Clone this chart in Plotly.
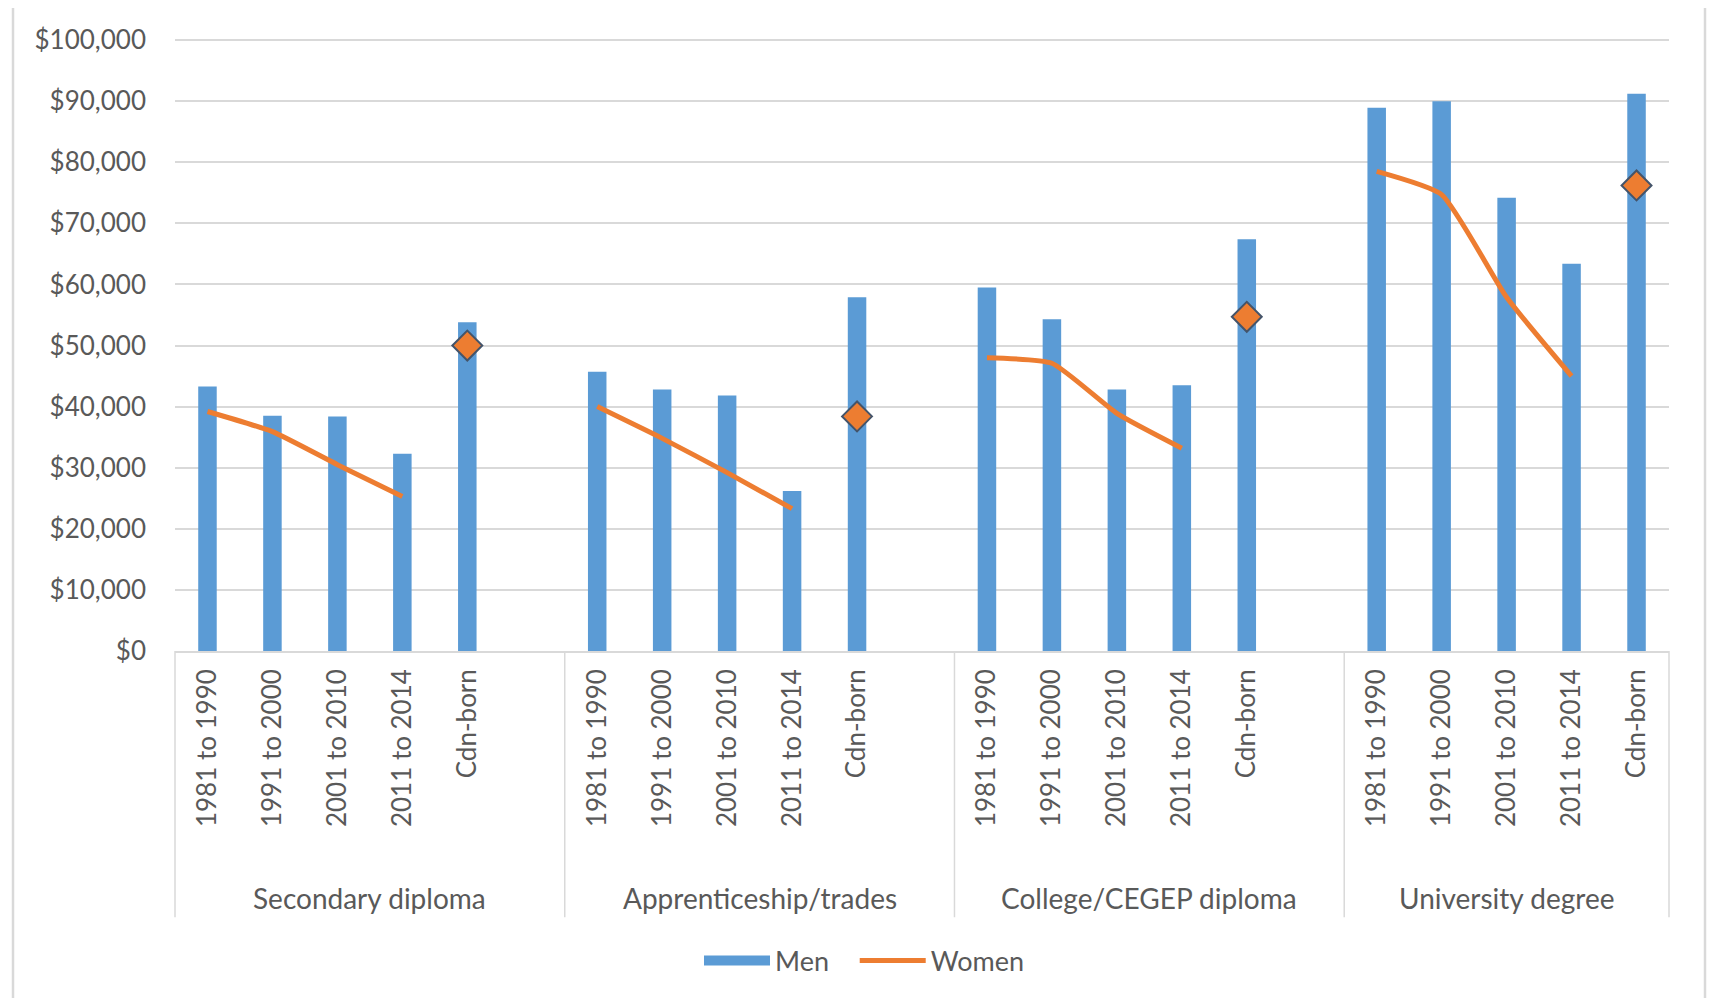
import plotly.graph_objects as go

# ---- data ----
groups = ["Secondary diploma", "Apprenticeship/trades", "College/CEGEP diploma", "University degree"]
cohorts = ["1981 to 1990", "1991 to 2000", "2001 to 2010", "2011 to 2014", "Cdn-born"]

men_secondary = [43300, 38500, 38400, 32300, 53800]
men_apprentice = [45700, 42800, 41800, 26200, 57900]
men_college = [59500, 54300, 42800, 43500, 67400]
men_university = [88900, 90000, 74200, 63400, 91200]

women_secondary = [39200, 35900, 30500, 25300, 50000]
women_apprentice = [40000, 34800, 29200, 23300, 38400]
women_college = [48000, 47100, 38900, 33200, 54700]
women_university = [78500, 74700, 57900, 45000, 76200]

y_ticks = list(range(0, 100001, 10000))

men_all = [men_secondary, men_apprentice, men_college, men_university]
women_all = [women_secondary, women_apprentice, women_college, women_university]

# ---- layout constants (pixels, in page coordinates) ----
OFF = 8                      # default body margin of the html page
W, H = 1716 - 2 * OFF, 1006 - 2 * OFF
Y_MAX = 100500
PLOT_L, PLOT_R = 175, 1669
ZERO_Y = 651
PX_PER_UNIT = 61.05 / 10000
PLOT_T = ZERO_Y - Y_MAX * PX_PER_UNIT
ML, MR = PLOT_L - OFF, (1716 - OFF) - PLOT_R
MT, MB = PLOT_T - OFF, (1006 - OFF) - ZERO_Y
PW, PH = W - ML - MR, H - MT - MB
SLOTS_PER_GROUP = 6          # 5 categories + one empty slot between groups
n_slots = SLOTS_PER_GROUP * (len(groups) - 1) + len(cohorts)

FONT = "Lato"
TXT = "#595959"
GRID = "#d9d9d9"
BLUE = "#5b9bd5"
ORANGE = "#ed7d31"
NBSP = "\u00a0"

def px_x(p):
    return (p - PLOT_L) / PW

def px_y(p):
    return (ZERO_Y - p) / PH

# positions
bar_x, bar_y, tick_vals, tick_text = [], [], [], []
line_x, line_y = [], []
dia_x, dia_y = [], []
for g, (mv, wv) in enumerate(zip(men_all, women_all)):
    base = g * SLOTS_PER_GROUP
    for k, c in enumerate(cohorts):
        x = base + k
        bar_x.append(x)
        bar_y.append(mv[k])
        tick_vals.append(x)
        tick_text.append(c)
        if c == "Cdn-born":
            dia_x.append(x)
            dia_y.append(wv[k])
        else:
            line_x.append(x)
            line_y.append(wv[k])
    line_x.append(None)
    line_y.append(None)

fig = go.Figure()
fig.add_trace(go.Bar(x=bar_x, y=bar_y, name="Men", width=0.285, showlegend=False,
                     marker=dict(color=BLUE, line=dict(width=0))))
# legend entry for Men (wide block, as in the original)
fig.add_trace(go.Scatter(x=[None], y=[None], name="Men" + NBSP * 3, mode="lines",
                         line=dict(color=BLUE, width=16)))
fig.add_trace(go.Scatter(x=line_x, y=line_y, name="Women", mode="lines",
                         line=dict(color=ORANGE, width=5, shape="spline", smoothing=0.5),
                         connectgaps=False))
fig.add_trace(go.Scatter(x=dia_x, y=dia_y, name="Women", mode="markers", showlegend=False,
                         marker=dict(symbol="diamond", size=23, color=ORANGE,
                                     line=dict(color="#44546a", width=2))))

# group boundaries (in slot units)
bounds = [-0.5]
for g in range(1, len(groups)):
    bounds.append(g * SLOTS_PER_GROUP - 0.5)
bounds.append(n_slots - 0.5)

# divider lines below the axis
div_bottom = px_y(917)
shapes = []
for xs in bounds:
    xp = (xs + 0.5) / n_slots
    shapes.append(dict(type="line", xref="paper", yref="paper", x0=xp, x1=xp,
                       y0=0, y1=div_bottom, line=dict(color=GRID, width=1.5)))
# outer chart border
shapes.append(dict(type="rect", xref="paper", yref="paper",
                   x0=px_x(13), x1=px_x(1705), y0=px_y(999), y1=px_y(5),
                   line=dict(color=GRID, width=2.5), layer="below"))

annotations = []
for g, name in enumerate(groups):
    center = (bounds[g] + bounds[g + 1]) / 2
    annotations.append(dict(x=center, xref="x", y=px_y(898), yref="paper",
                            text=name, showarrow=False, yanchor="middle",
                            font=dict(family=FONT, size=28, color=TXT)))

fig.update_layout(
    width=W, height=H,
    margin=dict(l=ML, r=MR, t=MT, b=MB, autoexpand=False),
    paper_bgcolor="white", plot_bgcolor="white",
    font=dict(family=FONT, size=26, color=TXT),
    barmode="overlay",
    showlegend=True,
    legend=dict(orientation="h", xref="container", yref="container",
                x=(864 - OFF) / W, xanchor="center", y=1 - (961 - OFF) / H, yanchor="middle",
                font=dict(family=FONT, size=27, color=TXT),
                itemwidth=66, traceorder="normal"),
    shapes=shapes,
    annotations=annotations,
)
fig.update_xaxes(range=[-0.5, n_slots - 0.5], tickmode="array", tickvals=tick_vals,
                 ticktext=tick_text, tickangle=-90, showgrid=False, zeroline=False,
                 showline=True, linecolor=GRID, linewidth=1.5, ticks="",
                 ticklabelstandoff=6,
                 tickfont=dict(family=FONT, size=26, color=TXT))
fig.update_yaxes(range=[0, Y_MAX], tickmode="array", tickvals=y_ticks,
                 tickformat="$,.0f", showgrid=True, gridcolor=GRID, gridwidth=1.5,
                 zeroline=False, showline=False, ticks="", ticklabelstandoff=28,
                 tickfont=dict(family=FONT, size=26, color=TXT))

fig.write_html("out.html")
